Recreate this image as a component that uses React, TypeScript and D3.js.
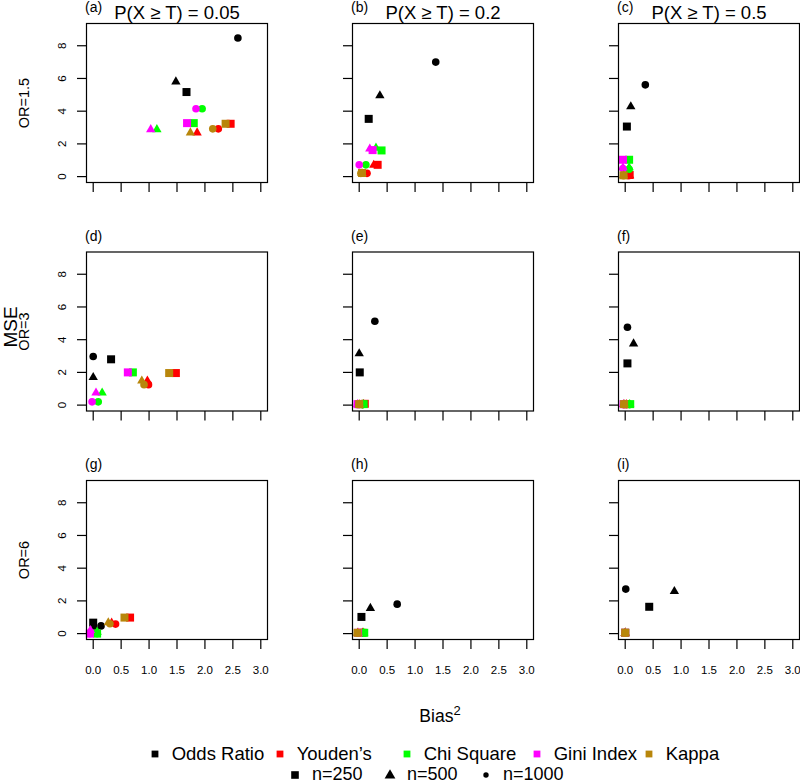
import React from "react";
import * as d3 from "d3";

// ---- data ----
const methods = ["Odds Ratio", "Youden\u2019s", "Chi Square", "Gini Index", "Kappa"];
const methodColors = ["#000000", "#FF0000", "#00FF00", "#FF00FF", "#B8860B"];
const sampleSizes = ["n=250", "n=500", "n=1000"];
const sizeShapes = ["square", "triangle", "circle"];
const panelTags = ["(a)", "(b)", "(c)", "(d)", "(e)", "(f)", "(g)", "(h)", "(i)"];
const colTitles = ["0.05", "0.2", "0.5"];
const rowLabels = ["OR=1.5", "OR=3", "OR=6"];
const xTicks = [0, 0.5, 1, 1.5, 2, 2.5, 3];
const yTicks = [0, 2, 4, 6, 8];

// each panel: per method (Odds Ratio, Youden's, Chi Square, Gini Index, Kappa),
// per sample size (n=250, n=500, n=1000): [Bias^2, MSE]
const panelA = [
  [[1.67, 5.17], [1.48, 5.8], [2.59, 8.47]],
  [[2.46, 3.23], [1.86, 2.68], [2.24, 2.92]],
  [[1.8, 3.27], [1.14, 2.88], [1.95, 4.15]],
  [[1.68, 3.27], [1.03, 2.88], [1.84, 4.15]],
  [[2.37, 3.23], [1.74, 2.68], [2.14, 2.92]],
];
const panelB = [
  [[0.17, 3.53], [0.37, 4.95], [1.37, 7.0]],
  [[0.33, 0.72], [0.26, 0.7], [0.14, 0.2]],
  [[0.4, 1.6], [0.3, 1.75], [0.12, 0.72]],
  [[0.24, 1.62], [0.19, 1.7], [0.0, 0.72]],
  [[0.05, 0.22], [0.05, 0.2], [0.03, 0.2]],
];
const panelC = [
  [[0.03, 3.06], [0.1, 4.28], [0.36, 5.61]],
  [[0.08, 0.1], [0.08, 0.06], [0.06, 0.05]],
  [[0.07, 1.03], [0.07, 0.55], [0.07, 0.45]],
  [[-0.04, 1.03], [-0.04, 0.55], [-0.04, 0.5]],
  [[-0.03, 0.08], [-0.03, 0.06], [-0.03, 0.05]],
];
const panelD = [
  [[0.32, 2.8], [0.0, 1.7], [0.0, 2.97]],
  [[1.48, 1.96], [0.97, 1.48], [0.99, 1.25]],
  [[0.71, 2.0], [0.16, 0.75], [0.09, 0.2]],
  [[0.62, 2.0], [0.05, 0.75], [-0.02, 0.2]],
  [[1.36, 1.96], [0.87, 1.48], [0.91, 1.25]],
];
const panelE = [
  [[0.01, 2.0], [0.0, 3.15], [0.28, 5.13]],
  [[0.1, 0.08], [0.08, 0.05], [0.06, 0.03]],
  [[0.08, 0.06], [0.07, 0.05], [0.06, 0.03]],
  [[-0.03, 0.06], [-0.03, 0.05], [-0.03, 0.03]],
  [[0.0, 0.06], [0.0, 0.05], [0.0, 0.03]],
];
const panelF = [
  [[0.04, 2.55], [0.15, 3.75], [0.04, 4.76]],
  [[0.02, 0.06], [0.02, 0.05], [0.02, 0.03]],
  [[0.09, 0.06], [0.08, 0.05], [0.08, 0.03]],
  [[-0.03, 0.06], [-0.03, 0.05], [-0.03, 0.03]],
  [[-0.02, 0.06], [-0.02, 0.05], [-0.02, 0.03]],
];
const panelG = [
  [[0.0, 0.67], [0.02, 0.4], [0.14, 0.47]],
  [[0.66, 0.98], [0.33, 0.65], [0.4, 0.58]],
  [[0.07, 0.0], [0.07, 0.1], [0.07, 0.0]],
  [[-0.06, 0.0], [-0.05, 0.2], [-0.06, 0.0]],
  [[0.56, 0.98], [0.27, 0.67], [0.3, 0.6]],
];
const panelH = [
  [[0.04, 1.02], [0.2, 1.55], [0.68, 1.8]],
  [[0.06, 0.05], [0.06, 0.04], [0.05, 0.03]],
  [[0.09, 0.05], [0.08, 0.04], [0.08, 0.03]],
  [[-0.02, 0.05], [-0.02, 0.04], [-0.02, 0.03]],
  [[-0.03, 0.05], [-0.03, 0.04], [-0.03, 0.03]],
];
const panelI = [
  [[0.43, 1.64], [0.88, 2.58], [0.01, 2.72]],
  [[0.0, 0.05], [0.0, 0.04], [0.0, 0.03]],
  [[0.0, 0.05], [0.0, 0.04], [0.0, 0.03]],
  [[0.0, 0.05], [0.0, 0.04], [0.0, 0.03]],
  [[0.0, 0.05], [0.0, 0.04], [0.0, 0.03]],
];
const panels = [panelA, panelB, panelC, panelD, panelE, panelF, panelG, panelH, panelI];

// ---- layout ----
const FONT = "'Liberation Sans', Arial, Helvetica, sans-serif";
const colX = [86.5, 352.5, 618.5];
const rowY = [23.5, 252, 480.5];
const PW = 181;
const PH = 159;

function Marker({ shape, x, y, color, size = 1 }: { shape: string; x: number; y: number; color: string; size?: number }) {
  if (shape === "square") {
    const s = 8 * size;
    return <rect x={x - s / 2} y={y - s / 2} width={s} height={s} fill={color} />;
  }
  if (shape === "triangle") {
    const r = 5.4 * size;
    const pts = [
      [x, y - r],
      [x + r * 0.866, y + r * 0.5],
      [x - r * 0.866, y + r * 0.5],
    ];
    return <polygon points={pts.map((p) => p.join(",")).join(" ")} fill={color} />;
  }
  return <circle cx={x} cy={y} r={3.8 * size} fill={color} />;
}

function Panel({ idx }: { idx: number }) {
  const row = Math.floor(idx / 3);
  const col = idx % 3;
  const x0 = colX[col];
  const y0 = rowY[row];
  const xs = d3.scaleLinear().domain([-0.12, 3.12]).range([x0, x0 + PW]);
  const ys = d3.scaleLinear().domain([-0.36, 9.36]).range([y0 + PH, y0]);
  const data = panels[idx];
  const tick = 9.5;
  return (
    <g>
      {data.map((m, mi) =>
        m.map((pt, si) => (
          <Marker key={`${mi}-${si}`} shape={sizeShapes[si]} x={xs(pt[0])} y={ys(pt[1])} color={methodColors[mi]} />
        ))
      )}
      <rect x={x0} y={y0} width={PW} height={PH} fill="none" stroke="#000" strokeWidth={1.2} />
      {yTicks.map((t) => (
        <line key={`y${t}`} x1={x0 - tick} x2={x0} y1={ys(t)} y2={ys(t)} stroke="#000" strokeWidth={1.2} />
      ))}
      {xTicks.map((t) => (
        <line key={`x${t}`} x1={xs(t)} x2={xs(t)} y1={y0 + PH} y2={y0 + PH + tick} stroke="#000" strokeWidth={1.2} />
      ))}
      {col === 0 &&
        yTicks.map((t) => (
          <text
            key={`yl${t}`}
            transform={`translate(${x0 - 25},${ys(t)}) rotate(-90)`}
            textAnchor="middle"
            dy="0.35em"
            fontSize={11.5}
            fontFamily={FONT}
          >
            {t}
          </text>
        ))}
      {row === 2 &&
        xTicks.map((t) => (
          <text key={`xl${t}`} x={xs(t)} y={y0 + PH + 34} textAnchor="middle" fontSize={11.5} fontFamily={FONT}>
            {d3.format(".1f")(t)}
          </text>
        ))}
      <text x={x0 - 1.5} y={y0 - 11.5} fontSize={14} fontFamily={FONT}>
        {panelTags[idx]}
      </text>
      {row === 0 && (
        <text x={x0 + PW / 2} y={18.5} textAnchor="middle" fontSize={18.5} fontFamily={FONT}>
          {`P(X \u2265 T) = ${colTitles[col]}`}
        </text>
      )}
      {col === 0 && (
        <text
          transform={`translate(24,${y0 + PH / 2}) rotate(-90)`}
          textAnchor="middle"
          dy="0.35em"
          fontSize={14.5}
          fontFamily={FONT}
        >
          {rowLabels[row]}
        </text>
      )}
    </g>
  );
}

function Legend() {
  const row1Y = 754;
  const row2Y = 775;
  const row1X = [155, 280, 407, 537, 649];
  const row2X = [295, 390, 486];
  return (
    <g fontFamily={FONT}>
      {methods.map((m, i) => (
        <g key={m}>
          <rect x={row1X[i] - 3.4} y={row1Y - 3.4} width={6.8} height={6.8} fill={methodColors[i]} />
          <text x={row1X[i] + 16.7} y={row1Y + 6.3} fontSize={18.5}>
            {m}
          </text>
        </g>
      ))}
      {sampleSizes.map((s, i) => (
        <g key={s}>
          {i === 0 && <rect x={row2X[i] - 3.8} y={row2Y - 3.8} width={7.6} height={7.6} fill="#000" />}
          {i === 1 && <Marker shape="triangle" x={row2X[i]} y={row2Y + 0.5} color="#000" size={1.15} />}
          {i === 2 && <circle cx={row2X[i]} cy={row2Y} r={2.7} fill="#000" />}
          <text x={row2X[i] + 17} y={row2Y + 5} fontSize={18}>
            {s}
          </text>
        </g>
      ))}
    </g>
  );
}

export default function App() {
  return (
    <svg
      width={800}
      height={784}
      style={{ position: "absolute", left: 0, top: 0, background: "#fff" }}
      fontFamily={FONT}
    >
      <rect width={800} height={784} fill="#fff" />
      {panels.map((_, i) => (
        <Panel key={i} idx={i} />
      ))}
      <text transform="translate(10,327) rotate(-90)" textAnchor="middle" dy="0.35em" fontSize={19}>
        MSE
      </text>
      <text x={440} y={722} textAnchor="middle" fontSize={17.5}>
        Bias
        <tspan dy={-7} fontSize={13}>
          2
        </tspan>
      </text>
      <Legend />
    </svg>
  );
}
